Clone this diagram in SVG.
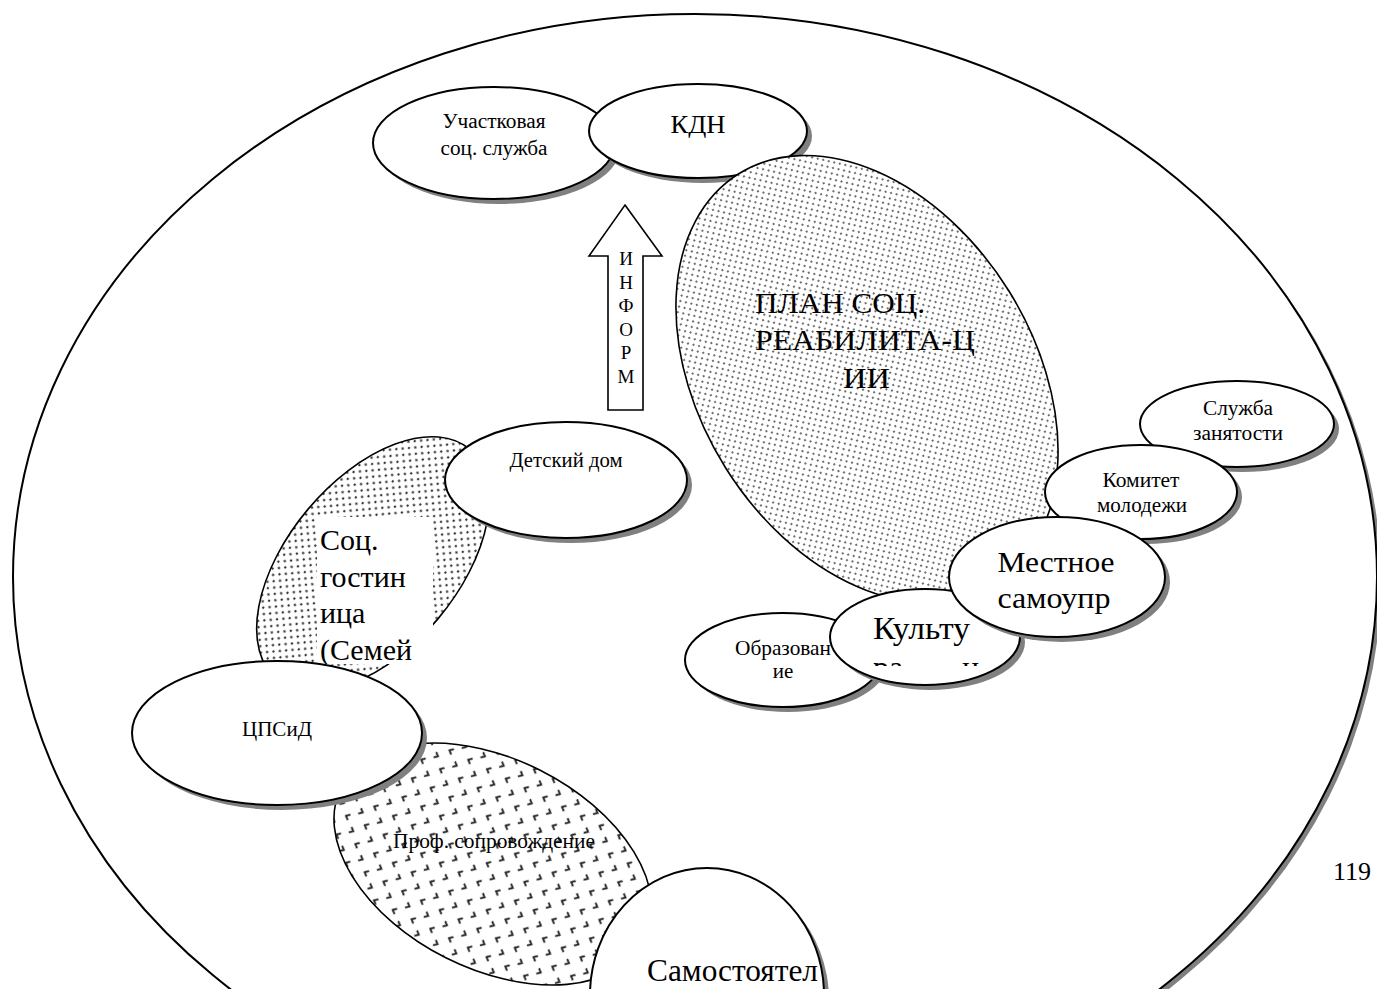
<svg xmlns="http://www.w3.org/2000/svg" width="1377" height="989" viewBox="0 0 1377 989">
<style>
.sh{fill:#808080;stroke:none}
.nd{fill:#fff;stroke:#000;stroke-width:2}
.pat{stroke:#000;stroke-width:1.6}
.t{font-family:"Liberation Serif","Times New Roman",serif;fill:#000;text-anchor:middle}
.s{text-anchor:start}
</style>
<defs>
<pattern id="pFine" width="8" height="8" patternUnits="userSpaceOnUse">
<rect width="8" height="8" fill="#fff"/>
<circle cx="2" cy="2" r="0.95" fill="#333"/><circle cx="6" cy="6" r="0.95" fill="#333"/>
</pattern>
<pattern id="pDots" width="9" height="9" patternUnits="userSpaceOnUse">
<rect width="9" height="9" fill="#fff"/>
<circle cx="2" cy="2" r="1.2" fill="#333"/><circle cx="6.5" cy="6.5" r="1.2" fill="#333"/>
</pattern>
<pattern id="pDivot" width="21" height="21" patternUnits="userSpaceOnUse">
<rect width="21" height="21" fill="#fff"/>
<path d="M7.5,2 L4,5 L7.5,8 M14,12.5 L17.5,15.5 L14,18.5" fill="none" stroke="#222" stroke-width="1.8"/>
</pattern>
<clipPath id="cGost"><rect x="317" y="517" width="116" height="147"/></clipPath>
<clipPath id="cKult"><rect x="830" y="590" width="200" height="76"/></clipPath>
</defs>
<rect width="1377" height="989" fill="#fff"/>

<g id="outer">
<ellipse class="sh" cx="699" cy="581" rx="682" ry="563"/>
<ellipse class="nd" cx="695" cy="577" rx="682" ry="563"/>
</g>

<g id="uchastkovaya">
<ellipse class="sh" cx="499" cy="148" rx="121" ry="56"/>
<ellipse class="nd" cx="494" cy="143" rx="121" ry="56"/>
<text class="t" x="494" y="128" font-size="20" textLength="103" lengthAdjust="spacingAndGlyphs">Участковая</text>
<text class="t" x="494" y="155" font-size="20" textLength="107" lengthAdjust="spacingAndGlyphs">соц. служба</text>
</g>

<g id="kdn">
<ellipse class="sh" cx="703" cy="136" rx="109" ry="47"/>
<ellipse class="nd" cx="698" cy="131" rx="109" ry="47"/>
<text class="t" x="698" y="133" font-size="25" textLength="55" lengthAdjust="spacingAndGlyphs">КДН</text>
</g>

<g id="connectors">
<polygon points="625,205 662,256 643,256 643,410 608,410 608,256 589,256" fill="#fff" stroke="#000" stroke-width="1.6"/>
<g class="t" font-size="19">
<text x="626" y="265">И</text>
<text x="626" y="288.5">Н</text>
<text x="626" y="312">Ф</text>
<text x="626" y="335.5">О</text>
<text x="626" y="359">Р</text>
<text x="626" y="382.5">М</text>
</g>
</g>

<g id="plan">
<ellipse class="pat" cx="867" cy="379" rx="167" ry="242" transform="rotate(-32 867 379)" fill="url(#pFine)"/>
<text class="t s" x="755" y="313" font-size="30" textLength="170" lengthAdjust="spacingAndGlyphs">ПЛАН СОЦ.</text>
<text class="t s" x="755" y="350" font-size="30" textLength="220" lengthAdjust="spacingAndGlyphs">РЕАБИЛИТА-Ц</text>
<text class="t s" x="843" y="388" font-size="30" textLength="47" lengthAdjust="spacingAndGlyphs">ИИ</text>
</g>

<g id="gostinica">
<ellipse class="pat" cx="373" cy="564" rx="85" ry="150" transform="rotate(40 373 564)" fill="url(#pDots)"/>
<rect x="317" y="517" width="116" height="147" fill="#fff"/>
<g clip-path="url(#cGost)" class="t s" font-size="30">
<text x="320" y="550">Соц.</text>
<text x="320" y="587">гостин</text>
<text x="320" y="623">ица</text>
<text x="320" y="660">(Семей</text>
</g>
</g>

<g id="detskiy-dom">
<ellipse class="sh" cx="571" cy="485" rx="121" ry="58"/>
<ellipse class="nd" cx="566" cy="480" rx="121" ry="58"/>
<text class="t" x="566" y="467" font-size="20" textLength="113" lengthAdjust="spacingAndGlyphs">Детский дом</text>
</g>

<g id="prof">
<ellipse class="pat" cx="493" cy="864" rx="170" ry="105" transform="rotate(26.7 493 864)" fill="url(#pDivot)"/>
<text class="t" x="494" y="848" font-size="21" textLength="202" lengthAdjust="spacingAndGlyphs">Проф. сопровождение</text>
</g>

<g id="cpsid">
<ellipse class="sh" cx="282" cy="738" rx="145" ry="72"/>
<ellipse class="nd" cx="277" cy="733" rx="145" ry="72"/>
<text class="t" x="277" y="736" font-size="21" textLength="70" lengthAdjust="spacingAndGlyphs">ЦПСиД</text>
</g>

<g id="samostoyatel">
<ellipse class="sh" cx="712" cy="1000" rx="117" ry="127"/>
<ellipse class="nd" cx="707" cy="995" rx="117" ry="127"/>
<text class="t s" x="647" y="981" font-size="32" textLength="171" lengthAdjust="spacingAndGlyphs">Самостоятел</text>
</g>

<g id="sluzhba">
<ellipse class="sh" cx="1242" cy="429" rx="97" ry="43"/>
<ellipse class="nd" cx="1237" cy="424" rx="97" ry="43"/>
<text class="t" x="1238" y="415" font-size="20" textLength="70" lengthAdjust="spacingAndGlyphs">Служба</text>
<text class="t" x="1238" y="440" font-size="20" textLength="90" lengthAdjust="spacingAndGlyphs">занятости</text>
</g>

<g id="komitet">
<ellipse class="sh" cx="1146" cy="497" rx="96" ry="47"/>
<ellipse class="nd" cx="1141" cy="492" rx="96" ry="47"/>
<text class="t" x="1141" y="487" font-size="20" textLength="77" lengthAdjust="spacingAndGlyphs">Комитет</text>
<text class="t" x="1142" y="512" font-size="20" textLength="90" lengthAdjust="spacingAndGlyphs">молодежи</text>
</g>

<g id="obrazovanie">
<ellipse class="sh" cx="788" cy="665" rx="98" ry="47"/>
<ellipse class="nd" cx="783" cy="660" rx="98" ry="47"/>
<text class="t" x="783" y="655" font-size="21" textLength="96" lengthAdjust="spacingAndGlyphs">Образован</text>
<text class="t" x="783" y="678" font-size="21">ие</text>
</g>

<g id="kultura">
<ellipse class="sh" cx="930" cy="642" rx="95" ry="48"/>
<ellipse class="nd" cx="925" cy="637" rx="95" ry="48"/>
<text class="t s" x="873" y="639" font-size="32" textLength="97" lengthAdjust="spacingAndGlyphs">Культу</text>
<g clip-path="url(#cKult)" class="t s" font-size="32">
<text x="873" y="678">ра</text>
<text x="962" y="678">и</text>
</g>
</g>

<g id="mestnoe">
<ellipse class="sh" cx="1062" cy="582" rx="108" ry="60"/>
<ellipse class="nd" cx="1057" cy="577" rx="108" ry="60"/>
<text class="t" x="1056" y="572" font-size="30" textLength="117" lengthAdjust="spacingAndGlyphs">Местное</text>
<text class="t" x="1054" y="608" font-size="30" textLength="113" lengthAdjust="spacingAndGlyphs">самоупр</text>
</g>

<text class="t s" x="1333" y="880" font-size="26">119</text>
</svg>
